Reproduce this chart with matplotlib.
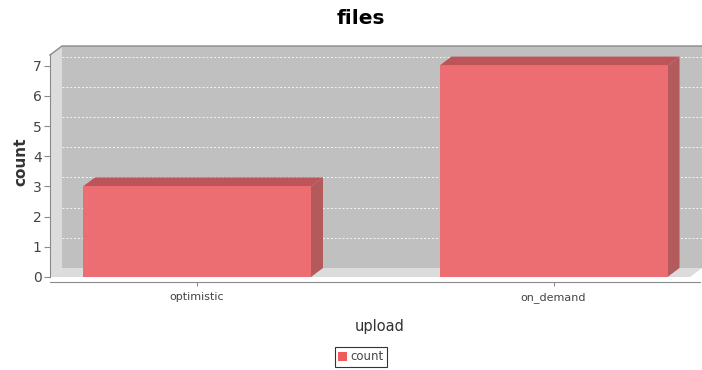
import matplotlib
matplotlib.use("Agg")
import matplotlib.pyplot as plt
from matplotlib.patches import Polygon, Patch

# -----------------------------
# data
# -----------------------------
categories = ["optimistic", "on_demand"]
counts = [3, 7]
y_ticks = [0, 1, 2, 3, 4, 5, 6, 7]
series_name = "count"

# -----------------------------
# look
# -----------------------------
W, H = 702, 370
BAR_FRONT = "#ec6e72"
BAR_TOP = "#bd5558"
BAR_SIDE = "#b25a5c"
WALL_BACK = "#c0c0c0"
WALL_SIDE = "#dcdcdc"
EDGE = "#8a8a8a"
TXT = "#444444"

# pixel geometry of the reference (front face / depth)
PX_CAT0, PX_STEP = 197.0, 356.5
PX_ZERO, PX_UNIT = 277.0, 30.2
DEPTH_X, DEPTH_Y = 12.0, 9.0


def px_to_x(px):
    return (px - PX_CAT0) / PX_STEP


def py_to_v(py):
    return (PX_ZERO - py) / PX_UNIT


dx = DEPTH_X / PX_STEP
dy = DEPTH_Y / PX_UNIT
bar_w = 228.0 / PX_STEP

fig = plt.figure(figsize=(W / 100, H / 100), dpi=100)
fig.patch.set_facecolor("white")

left_px, right_px, top_px, bot_px = 50, 702, 46, 282
ax = fig.add_axes([left_px / W, (H - bot_px) / H,
                   (right_px - left_px) / W, (bot_px - top_px) / H])
ax.patch.set_visible(False)
ax.set_xlim(px_to_x(left_px), px_to_x(right_px))
ax.set_ylim(py_to_v(bot_px), py_to_v(top_px))

x_lo = px_to_x(left_px)
x_hi = px_to_x(690)
v_top = py_to_v(55)

# back wall, left wall, floor
ax.add_patch(Polygon([(x_lo + dx, dy), (x_lo + dx, v_top + dy),
                      (x_hi + dx, v_top + dy), (x_hi + dx, dy)],
                     closed=True, fc=WALL_BACK, ec="none", zorder=1))
ax.add_patch(Polygon([(x_lo, 0), (x_lo, v_top), (x_lo + dx, v_top + dy),
                      (x_lo + dx, dy)],
                     closed=True, fc=WALL_SIDE, ec="none", zorder=1))
ax.add_patch(Polygon([(x_lo, 0), (x_lo + dx, dy), (x_hi + dx, dy),
                      (x_hi, 0)],
                     closed=True, fc=WALL_SIDE, ec="none", zorder=1))
ax.plot([x_lo, x_lo + dx, x_hi + dx], [v_top, v_top + dy, v_top + dy],
        color=EDGE, lw=1, zorder=2, clip_on=False)

# gridlines on back wall
for v in y_ticks[1:]:
    ax.plot([x_lo + dx, x_hi + dx], [v + dy, v + dy], color="#f4f4f4",
            lw=0.7, ls=(0, (2, 2)), zorder=2)

# bars
for i, (cat, val) in enumerate(zip(categories, counts)):
    x0 = i - bar_w / 2
    x1 = i + bar_w / 2
    ax.add_patch(Polygon([(x0, 0), (x0, val), (x1, val), (x1, 0)],
                         closed=True, fc=BAR_FRONT, ec="none", zorder=4))
    ax.add_patch(Polygon([(x0, val), (x0 + dx, val + dy),
                          (x1 + dx, val + dy), (x1, val)],
                         closed=True, fc=BAR_TOP, ec="none", zorder=3))
    ax.add_patch(Polygon([(x1, 0), (x1 + dx, dy), (x1 + dx, val + dy),
                          (x1, val)],
                         closed=True, fc=BAR_SIDE, ec="none", zorder=3))

# axes
for s in ["top", "right"]:
    ax.spines[s].set_visible(False)
ax.spines["left"].set_bounds(0, v_top)
ax.spines["left"].set_color(EDGE)
ax.spines["bottom"].set_color(EDGE)
ax.spines["bottom"].set_bounds(x_lo, px_to_x(700))

ax.set_yticks(y_ticks)
ax.set_xticks(range(len(categories)))
ax.set_xticklabels(categories)
ax.tick_params(axis="y", colors=EDGE, labelcolor=TXT, labelsize=10,
               length=4, width=0.8, pad=2)
ax.tick_params(axis="x", colors=EDGE, labelcolor=TXT, labelsize=8,
               length=3, width=0.8, pad=4)

fig.text(21 / W, 1 - 162 / H, "count", rotation=90, ha="center",
         va="center", fontsize=11, fontweight="bold", color="#333333")
fig.text(380 / W, 1 - 327 / H, "upload", ha="center", va="center",
         fontsize=10.5, color="#333333")
fig.text(361 / W, 1 - 19 / H, "files", ha="center", va="center",
         fontsize=14.5, fontweight="bold", color="black")

leg = fig.legend(handles=[Patch(fc="#f05a5a", ec="none", label=series_name)],
                 loc="center", bbox_to_anchor=(361 / W, 1 - 357 / H),
                 fontsize=8.5, frameon=True, fancybox=False,
                 handlelength=0.7, handleheight=0.7, handletextpad=0.3,
                 borderpad=0.3, borderaxespad=0)
leg.get_frame().set_edgecolor("black")
leg.get_frame().set_linewidth(0.8)
for t in leg.get_texts():
    t.set_color(TXT)

fig.savefig("out.png", dpi=100)
